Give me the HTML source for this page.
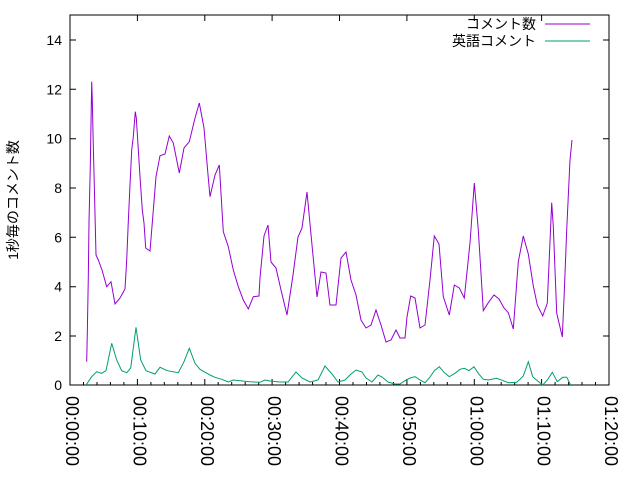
<!DOCTYPE html>
<html><head><meta charset="utf-8"><style>body{margin:0;background:#fff}svg{display:block}</style></head><body>
<svg width="640" height="480" xmlns="http://www.w3.org/2000/svg" font-family="Liberation Sans, Noto Sans CJK JP, sans-serif" font-size="14">
<rect width="640" height="480" fill="#fff"/>
<g stroke="#000" stroke-width="1" fill="none">
<path d="M70 385h6M70 336h6M70 286.7h6M70 237.3h6M70 188h6M70 138.7h6M70 89.3h6M70 40h6M609 336h-6M609 286.7h-6M609 237.3h-6M609 188h-6M609 138.7h-6M609 89.3h-6M609 40h-6"/>
<path d="M70 385v-6M137.4 385v-6M204.8 385v-6M272.1 385v-6M339.5 385v-6M406.9 385v-6M474.3 385v-6M541.6 385v-6M137.4 15v6M204.8 15v6M272.1 15v6M339.5 15v6M406.9 15v6M474.3 15v6M541.6 15v6"/>
<path d="M83.5 385v-3M97 385v-3M110.4 385v-3M123.9 385v-3M150.9 385v-3M164.3 385v-3M177.8 385v-3M191.3 385v-3M218.2 385v-3M231.7 385v-3M245.2 385v-3M258.7 385v-3M285.6 385v-3M299.1 385v-3M312.6 385v-3M326 385v-3M353 385v-3M366.5 385v-3M379.9 385v-3M393.4 385v-3M420.4 385v-3M433.8 385v-3M447.3 385v-3M460.8 385v-3M487.7 385v-3M501.2 385v-3M514.7 385v-3M528.1 385v-3M555.1 385v-3M568.6 385v-3M582 385v-3M595.5 385v-3"/>
<rect x="70" y="15" width="539" height="370"/>
</g>
<g text-anchor="end" font-size="14">
<text x="62" y="390">0</text><text x="62" y="341">2</text><text x="62" y="291.7">4</text><text x="62" y="242.3">6</text><text x="62" y="193">8</text><text x="62" y="143.7">10</text><text x="62" y="94.3">12</text><text x="62" y="45">14</text>
</g>
<g font-size="18">
<text transform="translate(66,396) rotate(90)">00:00:00</text>
<text transform="translate(133.4,396) rotate(90)">00:10:00</text>
<text transform="translate(200.8,396) rotate(90)">00:20:00</text>
<text transform="translate(268.1,396) rotate(90)">00:30:00</text>
<text transform="translate(335.5,396) rotate(90)">00:40:00</text>
<text transform="translate(402.9,396) rotate(90)">00:50:00</text>
<text transform="translate(470.3,396) rotate(90)">01:00:00</text>
<text transform="translate(537.6,396) rotate(90)">01:10:00</text>
<text transform="translate(605,396) rotate(90)">01:20:00</text>
</g>
<text transform="translate(18,200) rotate(-90)" text-anchor="middle" font-size="14">1秒毎のコメント数</text>
<text x="536" y="29" text-anchor="end" font-size="14">コメント数</text>
<text x="536" y="46" text-anchor="end" font-size="14">英語コメント</text>
<path d="M545 24h45" stroke="#9400d3"/>
<path d="M545 41h45" stroke="#009e73"/>
<polyline fill="none" stroke="#9400d3" stroke-width="1" points="86.7,361.7 87.3,333 88.3,278 89,222 90.3,166 91.7,81.7 92.3,100 93,133 94.7,201.7 96,255 98.3,260 102,270 106.7,286.7 111,281.7 115,304 120,298 125,289 126.7,260 128.3,221.7 130,185 131.7,150 133.3,136.7 135.3,111.7 136.3,118 137.7,140 140,176.7 142.3,210 144,223 145.7,248 150,251 151.7,230 154,201.7 156,176.7 160,155.7 165,154 169.3,136 173.3,143 179.3,173 184,148 189.3,141.7 195,118 199.3,103 204,128 208.3,178 210,196.7 215,175 219.3,165 221.7,205 223.3,231.7 228.3,246.7 233.3,270 238.3,286.7 243.3,300 248.3,309 253.3,296.7 259,296 260,278 264,236 268,225 271,262 276,268 281,290 287,315 293,275 298,237 302,228 307,192 312,245 317,297 321,272 326,273 330,305 336,305 341,258 346,252 351,280 356,295 361,320 366,328 371,325 376,310 381,325 386,342 391,340 396,330 400,338 405,338 407,317 410.7,296 415,298 420,328 425,325 430,280 434.3,236 439,244 443.3,296.7 449.3,315 454.3,285 459.3,288 464.3,298 470,243 474.3,183 478.3,230 483.3,310.7 488.3,302.7 494,295 499,299 504,308 508.3,312.7 513.3,329 518.3,261.7 523.3,236 528.3,254 533.3,286 537.3,305 542.7,316 547.3,303 551.7,202.7 553.3,226.7 556.7,313 562.3,337 564.3,291.7 566.7,230 570,160 572,140"/>
<polyline fill="none" stroke="#009e73" stroke-width="1" points="86,385 91.7,376.7 96.7,371.7 101.7,373.3 106,370.7 111.7,343.3 116.7,360 121.7,370.7 126.7,372.7 130.7,368 136,327.3 140.7,360 146,370.7 155,374 160,367.3 167.3,370.7 178.3,372.7 184,361.7 189.3,348.3 195,363.3 200,369.3 210,375 215,377.3 221.7,379.3 228.3,382 233.3,380 240,380.7 250,381.7 260,382.3 265,380 270,381 280,382 288,382 296,372 302,378 310,382 318,380 325,366 332,374 338,382 345,380 351,374 356,370 362,372 366,378 372,382 378,375 382,377 388,382 395,384 400,384 405,380.7 410,378 415,376.7 420,380 425,382.7 429.3,378 434.3,370.7 439.3,366.7 444.3,372.7 449.3,376.7 455,373.3 460,369.3 464.3,368.3 469,370.7 474,366.7 478.3,373.3 483.3,379.3 488.3,380 496.7,378.3 503.3,380.7 508.3,382.7 516.7,382.3 523.3,376 528.3,361.7 532.7,376.7 537.7,381 542.7,385 547.3,380 552.3,372.3 557.3,381.7 562.7,377.3 566.7,377.3 570.7,385"/>
</svg>
</body></html>
